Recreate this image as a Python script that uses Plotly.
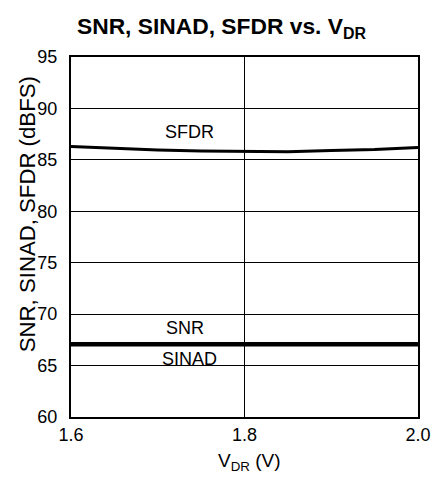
import plotly.graph_objects as go

vdr = [1.6, 1.65, 1.7, 1.75, 1.8, 1.85, 1.9, 1.95, 2.0]
sfdr = [86.3, 86.1, 85.95, 85.85, 85.8, 85.8, 85.9, 86.0, 86.2]
snr = [67.15, 67.15, 67.15, 67.15, 67.15, 67.15, 67.15, 67.15, 67.15]
sinad = [67.0, 67.0, 67.0, 67.0, 67.0, 67.0, 67.0, 67.0, 67.0]

x_ticks = [1.6, 1.8, 2.0]
x_tick_labels = ["1.6", "1.8", "2.0"]
y_ticks = [60, 65, 70, 75, 80, 85, 90, 95]

font = "Liberation Sans, Arial, sans-serif"

fig = go.Figure()
fig.add_trace(go.Scatter(x=vdr, y=sfdr, mode="lines", line=dict(color="black", width=3), name="SFDR"))
fig.add_trace(go.Scatter(x=vdr, y=snr, mode="lines", line=dict(color="black", width=3), name="SNR"))
fig.add_trace(go.Scatter(x=vdr, y=sinad, mode="lines", line=dict(color="black", width=3), name="SINAD"))

fig.add_annotation(x=1.737, y=87.7, text="SFDR", showarrow=False, font=dict(family=font, size=18, color="black"))
fig.add_annotation(x=1.731, y=68.65, text="SNR", showarrow=False, font=dict(family=font, size=18, color="black"))
fig.add_annotation(x=1.737, y=65.6, text="SINAD", showarrow=False, font=dict(family=font, size=18, color="black"))

# axis titles placed as annotations to match reference placement
fig.add_annotation(xref="paper", yref="paper", x=-0.127, y=0.563, text="SNR, SINAD, SFDR (dBFS)",
                   textangle=-90, showarrow=False, xanchor="center", yanchor="middle",
                   font=dict(family=font, size=22.2, color="black"))
fig.add_annotation(xref="paper", yref="paper", x=0.513, y=-0.125, text="V<sub>DR</sub> (V)",
                   showarrow=False, xanchor="center", yanchor="middle",
                   font=dict(family=font, size=19, color="black"))

fig.update_layout(
    width=443, height=480,
    margin=dict(l=71, r=17, t=57, b=63),
    paper_bgcolor="white", plot_bgcolor="white",
    showlegend=False,
    font=dict(family=font, color="black"),
    title=dict(text="<b>SNR, SINAD, SFDR vs. V<sub>DR</sub></b>", x=0.5, xanchor="center",
               y=0.946, yanchor="middle", font=dict(family=font, size=22.8, color="black")),
)
fig.update_xaxes(
    range=[1.6, 2.0], tickvals=x_ticks, ticktext=x_tick_labels,
    showgrid=True, gridcolor="black", gridwidth=1,
    showline=True, linecolor="black", linewidth=2, mirror=True,
    ticks="", tickfont=dict(family=font, size=18, color="black"),
    zeroline=False,
)
fig.update_yaxes(
    range=[60, 95], tickvals=y_ticks,
    showgrid=True, gridcolor="black", gridwidth=1,
    showline=True, linecolor="black", linewidth=2, mirror=True,
    ticks="", tickfont=dict(family=font, size=18, color="black"),
    ticklabelstandoff=8,
    zeroline=False,
)

fig.write_html(
    "out.html",
    config={"displayModeBar": False},
    post_script="document.body.style.margin='0';document.body.style.overflow='hidden';",
)
